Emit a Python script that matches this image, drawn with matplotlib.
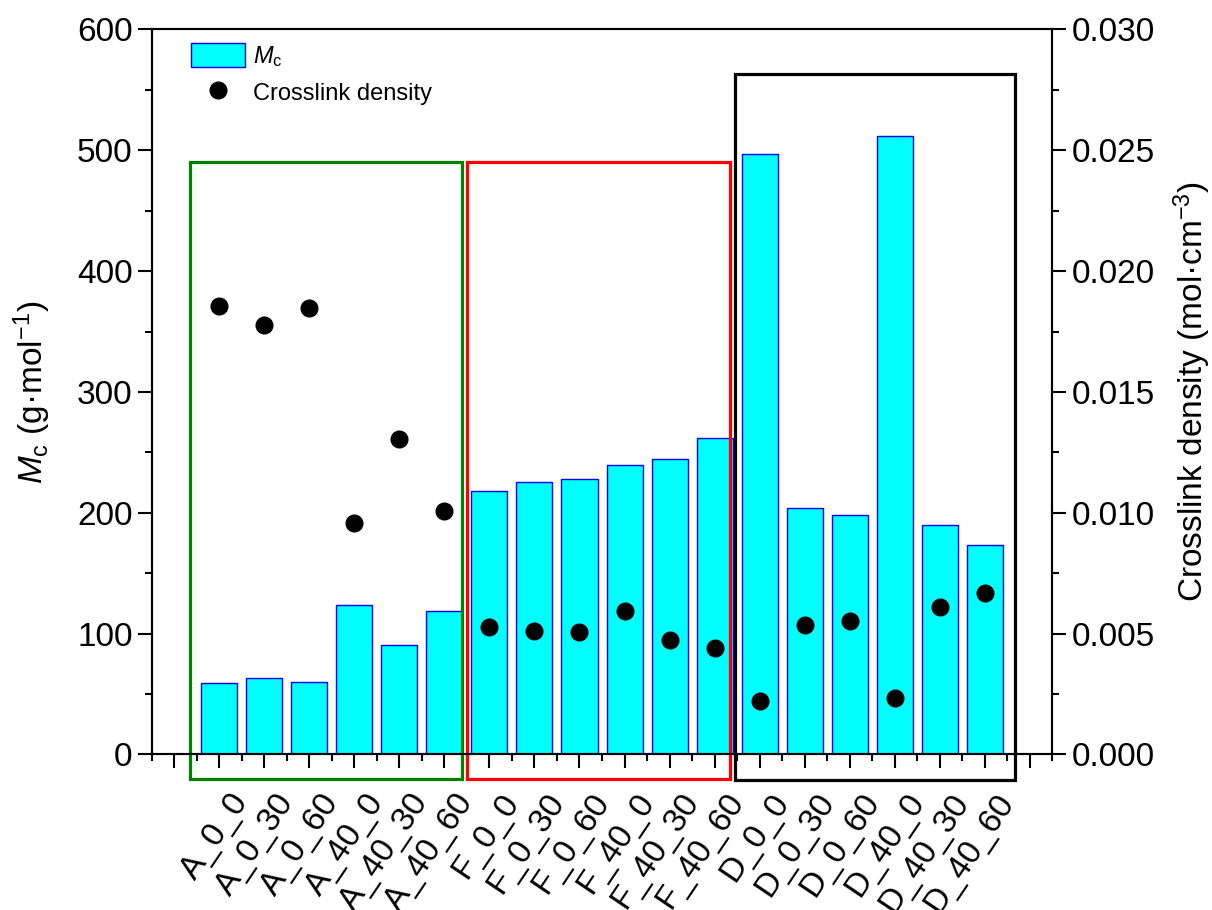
import numpy as np
import matplotlib.pyplot as plt
import matplotlib.transforms as mtransforms
from matplotlib.patches import Rectangle

plt.rcParams['font.family'] = ['Liberation Sans', 'DejaVu Sans']
plt.rcParams['mathtext.fontset'] = 'custom'
plt.rcParams['mathtext.rm'] = 'Liberation Sans'
plt.rcParams['mathtext.it'] = 'Liberation Sans:italic'

# --------------------------------------------------------------------------- #
# Data
# --------------------------------------------------------------------------- #
samples = ["A_0_0", "A_0_30", "A_0_60", "A_40_0", "A_40_30", "A_40_60",
           "F_0_0", "F_0_30", "F_0_60", "F_40_0", "F_40_30", "F_40_60",
           "D_0_0", "D_0_30", "D_0_60", "D_40_0", "D_40_30", "D_40_60"]
mc = [58.9, 63.3, 60.3, 123.5, 90.4, 118.8,
      218.1, 225.8, 227.7, 239.6, 244.8, 262.2,
      497.2, 204.3, 198.5, 511.6, 189.7, 173.4]
crosslink = [0.01857, 0.01777, 0.01846, 0.00957, 0.01307, 0.01009,
             0.00529, 0.00512, 0.00507, 0.00594, 0.00474, 0.00439,
             0.00223, 0.00536, 0.00554, 0.00233, 0.00609, 0.00668]

# group boxes: (x0, x1, y0, y1) in left-axis data units
group_boxes = [(-0.66, 5.40, -20, 490), (5.51, 11.34, -20, 490), (11.45, 17.67, -21, 563)]
group_colors = ['#008000', '#ff0000', 'black']

# --------------------------------------------------------------------------- #
# Plot
# --------------------------------------------------------------------------- #
fig = plt.figure(figsize=(12.12, 9.10), dpi=100)
ax1 = fig.add_axes([0.1254, 0.1709, 0.7426, 0.7967])
ax2 = ax1.twinx()

x = np.arange(len(samples))
bars = ax1.bar(x, mc, width=0.8, color='#00ffff', edgecolor='#0000ff', linewidth=1.0,
               label=r'$M_\mathrm{c}$', zorder=2)
dots, = ax2.plot(x, crosslink, 'o', color='black', ms=12, linestyle='none',
                 label='Crosslink density', zorder=3)

for (x0, x1, y0, y1), c in zip(group_boxes, group_colors):
  ax1.add_patch(Rectangle((x0, y0), x1 - x0, y1 - y0, fill=False, edgecolor=c,
                          linewidth=2.3, clip_on=False, zorder=4))

ax1.set_xlim(-1.5, 18.5)
ax1.set_ylim(0, 600)
ax2.set_ylim(0, 0.030)

ax1.set_xticks(np.arange(-1, 19))
ax1.set_xticklabels([''] + samples + [''], rotation=56, ha='right', va='top',
                    rotation_mode='anchor')
ax1.set_xticks(np.arange(-1.5, 18.6, 1.0), minor=True)
ax1.set_yticks(np.arange(0, 601, 100))
ax1.set_yticks(np.arange(0, 601, 50), minor=True)
ax2.set_yticks(np.arange(0, 0.0301, 0.005))
ax2.set_yticks(np.arange(0, 0.0301, 0.0025), minor=True)
ax2.set_yticklabels(["{:.3f}".format(v) for v in np.arange(0, 0.0301, 0.005)])

for ax in (ax1, ax2):
  ax.tick_params(which='major', direction='out', length=10, width=1.5, labelsize=24, pad=4)
  ax.tick_params(which='minor', direction='out', length=5, width=1.5)
  for s in ax.spines.values():
    s.set_linewidth(1.5)
ax1.tick_params(axis='x', which='major', pad=14)
ax2.tick_params(axis='y', which='both', left=False, right=True)

# shift rotated sample labels right a little (after tick_params, which resets transforms)
shift = mtransforms.ScaledTranslation(10 / 100, 0, fig.dpi_scale_trans)
for lab in ax1.get_xticklabels():
  lab.set_transform(lab.get_transform() + shift)

ax1.set_ylabel(r'$M_\mathrm{c}$ (g·mol$^{-1}$)', fontsize=24, labelpad=17)
ax2.set_ylabel(r'Crosslink density (mol·cm$^{-3}$)', fontsize=24, labelpad=12)

ax1.legend([bars, dots], [r'$M_\mathrm{c}$', 'Crosslink density'], loc='upper left',
           bbox_to_anchor=(0.043, 0.982), frameon=False, fontsize=17, borderpad=0,
           borderaxespad=0, handlelength=2.3, handleheight=1.2, handletextpad=0.35,
           labelspacing=0.5)

fig.savefig('out.png', dpi=100)
